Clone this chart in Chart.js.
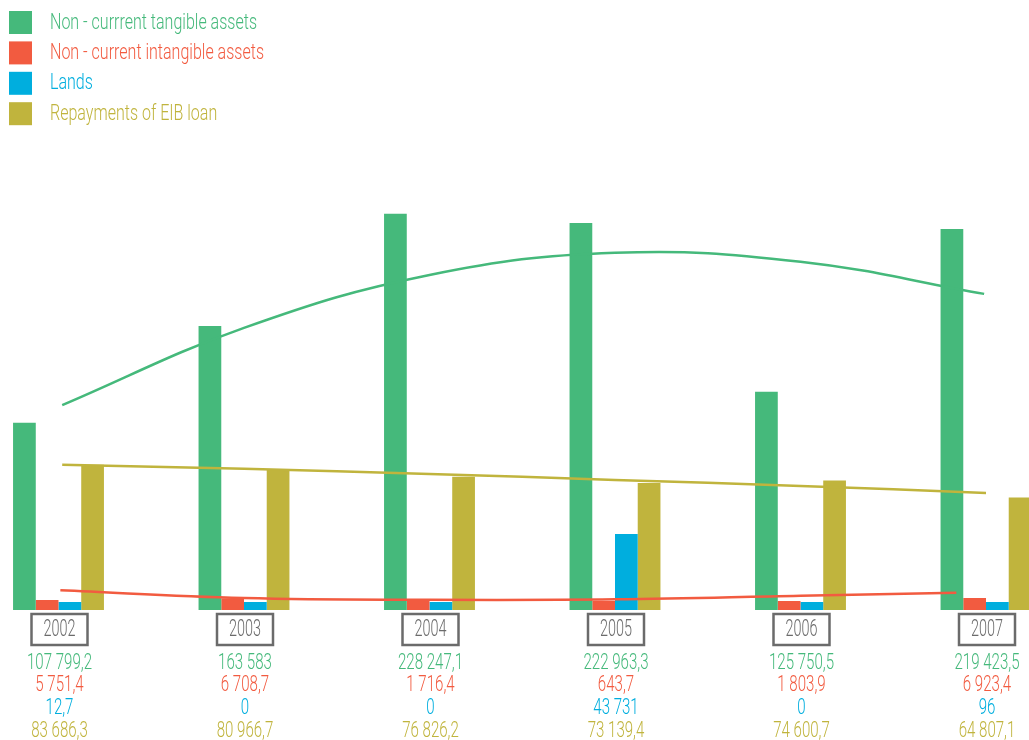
<!DOCTYPE html>
<html>
<head>
<meta charset="utf-8">
<script src="https://cdn.jsdelivr.net/npm/chart.js@4.4.1/dist/chart.umd.min.js"></script>
<style>
  html, body { margin: 0; padding: 0; background: #fff; }
  #wrap { width: 1029px; height: 740px; position: relative; }
  .layer { position: absolute; left: 0; top: 0; width: 1029px; height: 740px; }
</style>
</head>
<body>
<div id="wrap">
  <div class="layer"><canvas id="assetsChart"></canvas></div>
  <div class="layer"><canvas id="trendChart"></canvas></div>
</div>
<script>
  const years = ['2002', '2003', '2004', '2005', '2006', '2007'];
  const seriesNames = ['Non - currrent tangible assets', 'Non - current intangible assets', 'Lands', 'Repayments of EIB loan'];
  const seriesColors = ['#45b97b', '#f25b40', '#00aede', '#c0b43d'];

  const tangible = [107799.2, 163583, 228247.1, 222963.3, 125750.5, 219423.5];
  const intangible = [5751.4, 6708.7, 1716.4, 643.7, 1803.9, 6923.4];
  const lands = [12.7, 0, 0, 43731, 0, 96];
  const eibRepayments = [83686.3, 80966.7, 76826.2, 73139.4, 74600.7, 64807.1];

  // trend lines (x in category index units)
  const tangibleTrendX = [0.02, 1, 2, 3, 4, 4.99];
  const tangibleTrend = [118000, 162500, 193000, 205800, 200600, 182100];
  const intangibleTrendX = [0.01, 1, 2, 3, 4, 4.84];
  const intangibleTrend = [11350, 6900, 5900, 6150, 8250, 9970];
  const eibTrendX = [0.02, 1, 2, 3, 4, 5];
  const eibTrend = [83600, 81300, 78400, 74900, 71500, 67400];

  const yMax = 250000;
  const chartPadding = { top: 176, bottom: 130, left: 58.5, right: 43 };

  const toPoints = (xs, ys) => xs.map((x, i) => ({ x: x, y: ys[i] }));

  function formatValue(v) {
    const parts = String(v).split('.');
    const intPart = parts[0].replace(/\B(?=(\d{3})+(?!\d))/g, ' ');
    return parts.length > 1 ? intPart + ',' + parts[1] : intPart;
  }

  function narrowText(ctx, text, x, y, sx) {
    ctx.save();
    ctx.translate(x, y);
    ctx.scale(sx, 1);
    ctx.fillText(text, 0, 0);
    ctx.restore();
  }

  function fitScale(ctx, font, sample, target) {
    ctx.font = font;
    return target / ctx.measureText(sample).width;
  }

  // legend + year boxes + value labels, drawn in a condensed look
  const labelsPlugin = {
    id: 'labelsPlugin',
    afterDraw(chart) {
      const ctx = chart.ctx;
      const xScale = chart.scales.x;
      const legendFont = '300 22px Roboto';
      const yearFont = '300 23px Roboto';
      const valueFont = '300 22px Roboto';
      ctx.save();
      const sxLegend = fitScale(ctx, legendFont, seriesNames[0], 207);
      const sxYear = fitScale(ctx, yearFont, '2002', 32);
      const sxValue = fitScale(ctx, valueFont, '107 799,2', 65);
      ctx.textBaseline = 'middle';

      seriesNames.forEach((name, i) => {
        const y = 11 + i * 30.4;
        ctx.fillStyle = seriesColors[i];
        ctx.fillRect(9, y, 23, 23);
        ctx.textAlign = 'left';
        ctx.font = legendFont;
        narrowText(ctx, name, 50, y + 12, sxLegend);
      });

      const values = [tangible, intangible, lands, eibRepayments];
      years.forEach((year, i) => {
        const cx = xScale.getPixelForValue(i) + 1;
        ctx.strokeStyle = '#6b6b6b';
        ctx.lineWidth = 2.5;
        ctx.strokeRect(cx - 28, 614, 56, 31);
        ctx.fillStyle = '#6b6b6b';
        ctx.textAlign = 'center';
        ctx.font = yearFont;
        narrowText(ctx, year, cx, 630, sxYear);
        ctx.font = valueFont;
        values.forEach((arr, s) => {
          ctx.fillStyle = seriesColors[s];
          narrowText(ctx, formatValue(arr[i]), cx, 663 + s * 22.7, sxValue);
        });
      });
      ctx.restore();
    }
  };

  const barCtx = document.getElementById('assetsChart').getContext('2d');
  const assetsChart = new Chart(barCtx, {
    type: 'bar',
    data: {
      labels: years,
      datasets: [
        {
          label: seriesNames[0],
          data: tangible,
          backgroundColor: seriesColors[0]
        },
        {
          label: seriesNames[1],
          data: intangible,
          backgroundColor: seriesColors[1],
          minBarLength: 9
        },
        {
          label: seriesNames[2],
          data: lands,
          backgroundColor: seriesColors[2],
          minBarLength: 8
        },
        {
          label: seriesNames[3],
          data: eibRepayments,
          backgroundColor: seriesColors[3]
        }
      ]
    },
    options: {
      responsive: true,
      maintainAspectRatio: false,
      animation: false,
      layout: { padding: chartPadding },
      categoryPercentage: 0.49,
      barPercentage: 1.0,
      clip: false,
      plugins: {
        legend: { display: false },
        tooltip: { enabled: false }
      },
      scales: {
        x: { offset: false, display: false },
        y: { min: 0, max: yMax, display: false }
      }
    },
    plugins: [labelsPlugin]
  });

  // trend lines on an overlay chart with the same plot area
  const trendCtx = document.getElementById('trendChart').getContext('2d');
  const trendChart = new Chart(trendCtx, {
    type: 'line',
    data: {
      datasets: [
        {
          label: 'tangible trend',
          data: toPoints(tangibleTrendX, tangibleTrend),
          borderColor: seriesColors[0]
        },
        {
          label: 'intangible trend',
          data: toPoints(intangibleTrendX, intangibleTrend),
          borderColor: seriesColors[1]
        },
        {
          label: 'EIB trend',
          data: toPoints(eibTrendX, eibTrend),
          borderColor: seriesColors[3]
        }
      ]
    },
    options: {
      responsive: true,
      maintainAspectRatio: false,
      animation: false,
      layout: { padding: chartPadding },
      elements: {
        line: { borderWidth: 2.5, tension: 0.4, fill: false },
        point: { radius: 0 }
      },
      plugins: {
        legend: { display: false },
        tooltip: { enabled: false }
      },
      scales: {
        x: { type: 'linear', min: 0, max: 5, display: false },
        y: { min: 0, max: yMax, display: false }
      }
    }
  });
</script>
</body>
</html>
